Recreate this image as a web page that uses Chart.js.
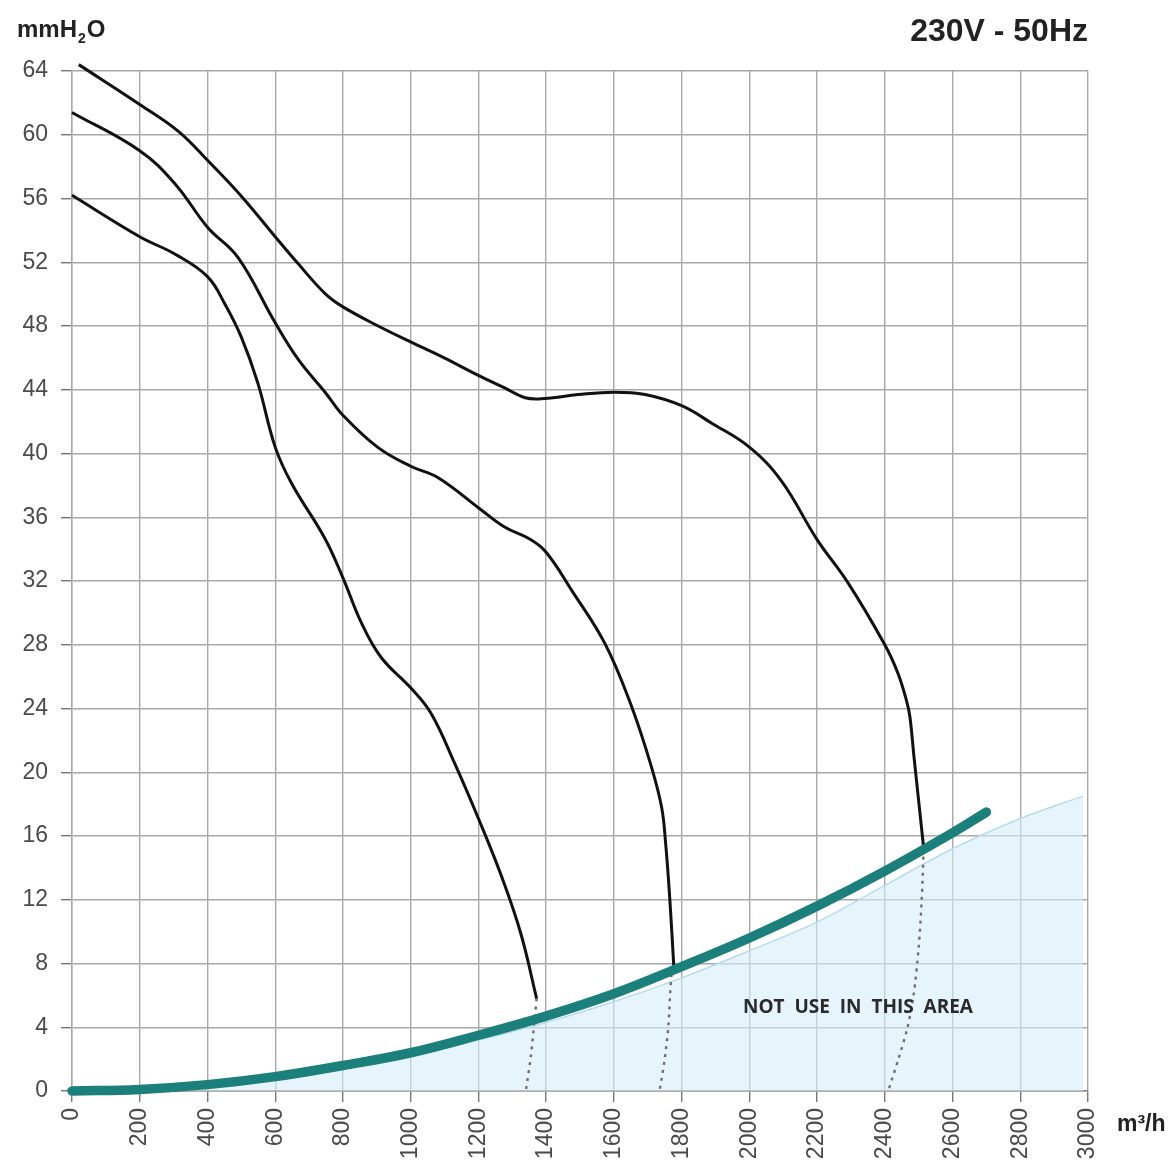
<!DOCTYPE html>
<html>
<head>
<meta charset="utf-8">
<script src="https://cdn.jsdelivr.net/npm/chart.js@4/dist/chart.umd.min.js"></script>
<style>
body{margin:0;background:#fff;}
#wrap{position:relative;width:1176px;height:1171px;}
</style>
</head>
<body>
<div id="wrap"><canvas id="fanChart"></canvas></div>
<script>
// x ticks (m3/h) and y ticks (mmH2O)
const xTicks=[0,200,400,600,800,1000,1200,1400,1600,1800,2000,2200,2400,2600,2800,3000];
const yTicks=[0,4,8,12,16,20,24,28,32,36,40,44,48,52,56,60,64];

// top speed curve
const topX=[20,200,315,400,502,600,668,749,800,904,1000,1099,1200,1279,1338,1395,1495,1600,1692,1800,1889,2000,2094,2200,2291,2400,2439,2464,2474,2486,2500,2515];
const topY=[64.4,61.9,60.2,58.4,56.1,53.6,51.9,50.0,49.2,48.0,47.0,46.0,44.9,44.1,43.5,43.45,43.7,43.85,43.7,43.0,41.9,40.4,38.3,34.6,31.9,28.0,26.2,24.5,23.5,21.0,18.2,15.2];

// middle speed curve
const midX=[0,200,305,400,490,600,668,749,800,902,1000,1080,1200,1276,1354,1400,1476,1573,1651,1710,1741,1753,1765,1777];
const midY=[61.4,59.0,56.9,54.2,52.3,48.2,45.9,43.8,42.4,40.4,39.2,38.5,36.6,35.4,34.6,33.8,31.4,28.1,24.2,20.4,17.8,15.5,12.1,7.8];

// low speed curve
const lowX=[0,200,305,400,451,500,549,600,649,746,800,854,913,1000,1060,1129,1200,1266,1325,1372];
const lowY=[56.2,53.6,52.5,51.1,49.4,47.3,44.4,40.4,38.1,34.7,32.2,29.4,27.2,25.3,23.7,20.6,17.1,13.6,9.9,5.8];

// dotted continuation below the system curve
const dotLowX=[1372,1366,1355,1340];
const dotLowY=[5.8,4.5,2.2,0];
const dotMidX=[1777,1770,1761,1750,1735];
const dotMidY=[7.8,7.3,4.1,2,0];
const dotTopX=[2515,2509,2500,2485,2466,2440,2410];
const dotTopY=[15.2,12,9,6,3.9,2,0];

// system (teal) curve
const sysX=[0,200,400,600,800,1000,1200,1400,1600,1800,2000,2200,2400,2600,2700];
const sysY=[0,0.1,0.4,0.9,1.6,2.4,3.5,4.7,6.1,7.8,9.6,11.6,13.8,16.2,17.5];

// "not use" area upper edge
const areaX=[0,400,800,1200,1400,1600,1800,2000,2200,2400,2600,2800,2985];
const areaY=[0,0.35,1.4,3.2,4.3,5.6,7.1,8.8,10.6,12.9,15.2,17.1,18.5];

function pts(xs,ys){
return xs.map((x,i)=>({x:x,y:ys[i]}));
}

const curve=(xs,ys)=>({data:pts(xs,ys),borderColor:"#111",borderWidth:3,tension:0.4,pointRadius:0,showLine:true,clip:10,order:3});
const dots=(xs,ys)=>({data:pts(xs,ys),borderColor:"#6f6f6f",borderWidth:2.4,borderDash:[3,5],tension:0.3,pointRadius:0,showLine:true,order:4});

/* texts */
const texts={
id:"texts",
afterDraw(chart){
const c=chart.ctx;
c.save();
c.fillStyle="#222";
c.textBaseline="alphabetic";
// unit y
c.font="bold 24px 'Liberation Sans', Arial, sans-serif";
let x=17;
c.fillText("mmH",x,37);x+=c.measureText("mmH").width;
c.font="bold 14px 'Liberation Sans', Arial, sans-serif";
c.fillText("2",x+1,43);x+=c.measureText("2").width+2;
c.font="bold 24px 'Liberation Sans', Arial, sans-serif";
c.fillText("O",x,37);
// header
c.font="bold 32px 'Liberation Sans', Arial, sans-serif";
c.textAlign="right";
c.fillText("230V - 50Hz",1088,41);
// unit x
c.textAlign="left";
c.font="bold 23px 'Liberation Sans', Arial, sans-serif";
c.fillText("m³/h",1117,1131);
// area label
c.fillStyle="#2a2a2a";
c.font="bold 19px 'Open Sans', sans-serif";
c.fillText("NOT  USE  IN  THIS  AREA",743,1013);
c.restore();
}
};

new Chart(document.getElementById("fanChart"),{
type:"scatter",
data:{
datasets:[
{data:pts(areaX,areaY),borderColor:"#b6dcf0",borderWidth:1.5,backgroundColor:"rgba(214,236,250,0.6)",fill:"origin",tension:0.3,pointRadius:0,showLine:true,order:6},
dots(dotLowX,dotLowY),
dots(dotMidX,dotMidY),
dots(dotTopX,dotTopY),
curve(topX,topY),
curve(midX,midY),
curve(lowX,lowY),
{data:pts(sysX,sysY),borderColor:"#1b7f7b",borderWidth:9.5,borderCapStyle:"round",tension:0.4,pointRadius:0,showLine:true,clip:10,order:1}
]
},
options:{
responsive:true,
maintainAspectRatio:false,
animation:false,
layout:{padding:{left:0,top:71,right:88,bottom:0}},
plugins:{legend:{display:false},tooltip:{enabled:false}},
scales:{
x:{
type:"linear",min:0,max:3000,
afterBuildTicks:s=>{s.ticks=xTicks.map(v=>({value:v}));},
afterFit:s=>{s.height=80;},
grid:{color:"#a8a8a8",lineWidth:1.4,tickLength:11,tickColor:"#777"},
border:{color:"#888",width:1.4},
ticks:{maxRotation:90,minRotation:90,padding:6,color:"#4a4a4a",font:{family:"'Liberation Sans', Arial, sans-serif",size:23},callback:v=>String(v)}
},
y:{
min:0,max:64,
afterBuildTicks:s=>{s.ticks=yTicks.map(v=>({value:v}));},
afterFit:s=>{s.width=72;},
grid:{color:"#a8a8a8",lineWidth:1.4,tickLength:11,tickColor:"#777"},
border:{color:"#a8a8a8",width:1.4},
ticks:{padding:13,color:"#4a4a4a",font:{family:"'Liberation Sans', Arial, sans-serif",size:23},callback:v=>String(v)}
}
}
},
plugins:[texts]
});
</script>
</body>
</html>
